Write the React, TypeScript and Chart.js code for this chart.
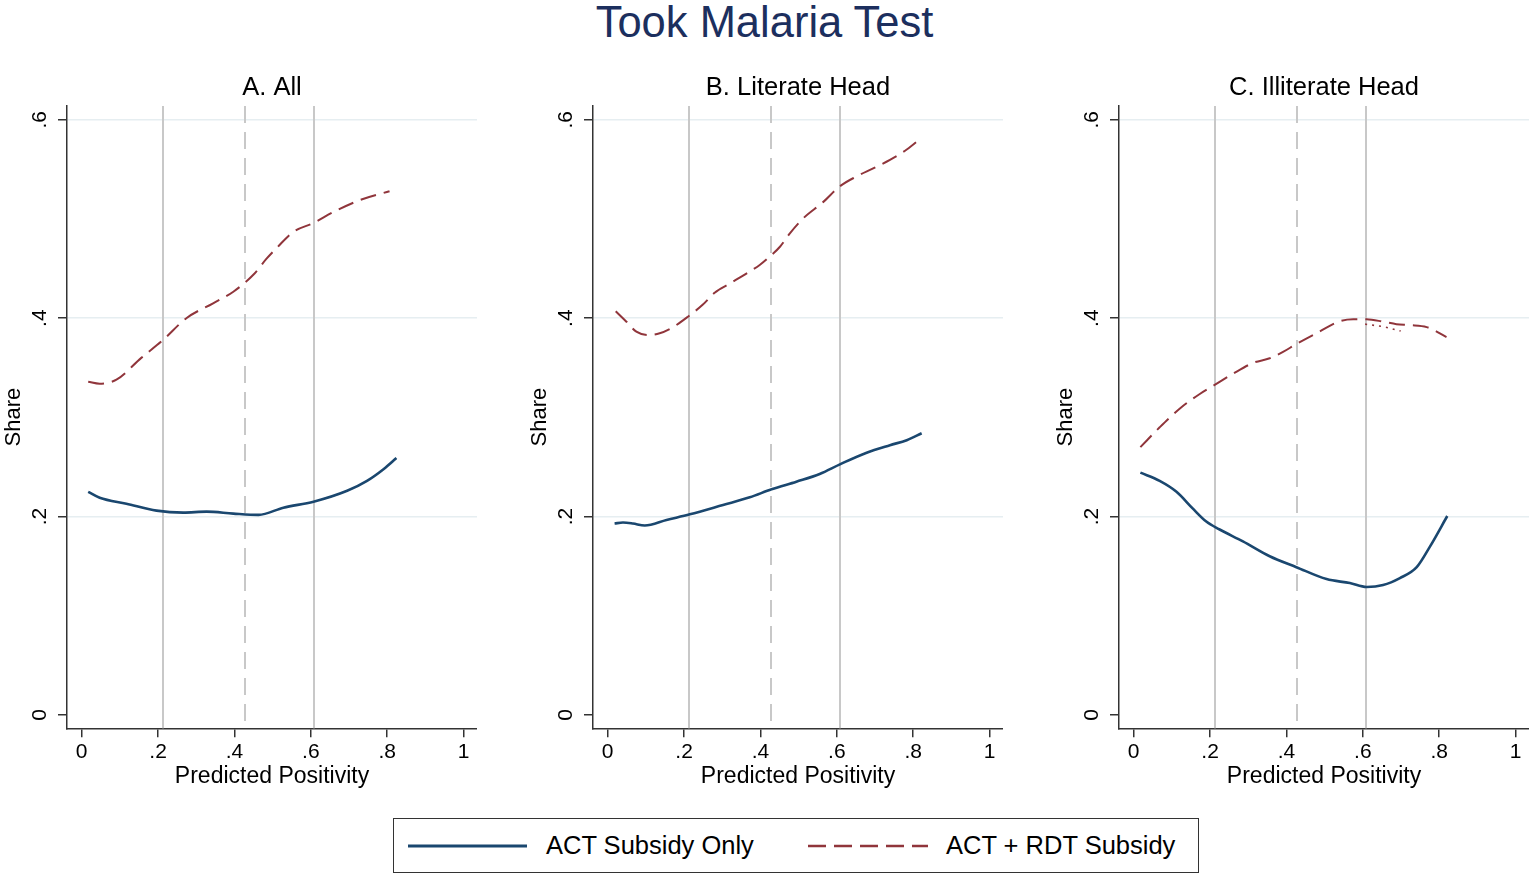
import React, { useEffect, useRef } from 'react';
import { Chart, registerables } from 'chart.js';

Chart.register(...registerables);

const FONT = '"Liberation Sans", Arial, Helvetica, sans-serif';

const mainTitle = 'Took Malaria Test';
const panelTitles = ['A. All', 'B. Literate Head', 'C. Illiterate Head'];
const xAxisTitle = 'Predicted Positivity';
const yAxisTitle = 'Share';
const seriesNames = ['ACT Subsidy Only', 'ACT + RDT Subsidy'];

const xTicks = [0, 0.2, 0.4, 0.6, 0.8, 1];
const xTickLabels = ['0', '.2', '.4', '.6', '.8', '1'];
const yTicks = [0, 0.2, 0.4, 0.6];
const yTickLabels = ['0', '.2', '.4', '.6'];

const refLines = [0.2126, 0.428, 0.609];
const refLineDashed = [false, true, false];

// Panel A: All
const actA_x = [0.017, 0.047, 0.117, 0.196, 0.266, 0.327, 0.397, 0.463, 0.528, 0.607, 0.695, 0.747, 0.791, 0.824];
const actA_y = [0.225, 0.219, 0.213, 0.206, 0.204, 0.205, 0.203, 0.2017, 0.209, 0.215, 0.226, 0.236, 0.248, 0.259];
const rdtA_x = [0.017, 0.047, 0.091, 0.156, 0.213, 0.274, 0.344, 0.397, 0.45, 0.484, 0.511, 0.554, 0.607, 0.659, 0.728, 0.806];
const rdtA_y = [0.336, 0.334, 0.338, 0.36, 0.378, 0.4, 0.415, 0.4267, 0.444, 0.46, 0.471, 0.487, 0.496, 0.507, 0.519, 0.528];

// Panel B: Literate Head
const actB_x = [0.018, 0.04, 0.066, 0.097, 0.154, 0.215, 0.302, 0.372, 0.429, 0.494, 0.555, 0.608, 0.678, 0.739, 0.783, 0.822];
const actB_y = [0.193, 0.194, 0.193, 0.191, 0.1966, 0.2023, 0.2117, 0.2194, 0.2275, 0.2352, 0.243, 0.2527, 0.2644, 0.272, 0.277, 0.284];
const rdtB_x = [0.021, 0.049, 0.075, 0.106, 0.136, 0.171, 0.21, 0.25, 0.28, 0.32, 0.363, 0.398, 0.424, 0.451, 0.477, 0.512, 0.564, 0.608, 0.652, 0.695, 0.739, 0.783, 0.822];
const rdtB_y = [0.407, 0.3965, 0.3864, 0.383, 0.3848, 0.391, 0.4015, 0.414, 0.4257, 0.435, 0.445, 0.4536, 0.462, 0.472, 0.4856, 0.5007, 0.517, 0.533, 0.543, 0.551, 0.5595, 0.57, 0.582];

// Panel C: Illiterate Head
const actC_x = [0.0175, 0.068, 0.112, 0.155, 0.19, 0.225, 0.286, 0.356, 0.426, 0.505, 0.566, 0.61, 0.653, 0.697, 0.741, 0.776, 0.821];
const actC_y = [0.2443, 0.236, 0.225, 0.208, 0.195, 0.187, 0.175, 0.16, 0.149, 0.137, 0.133, 0.129, 0.131, 0.138, 0.149, 0.17, 0.2006];
const rdtC_x = [0.0175, 0.068, 0.121, 0.173, 0.212, 0.26, 0.313, 0.356, 0.391, 0.426, 0.479, 0.54, 0.575, 0.61, 0.653, 0.688, 0.723, 0.767, 0.819];
const rdtC_y = [0.27, 0.29, 0.309, 0.3236, 0.3327, 0.344, 0.355, 0.3596, 0.366, 0.374, 0.385, 0.397, 0.399, 0.3989, 0.3965, 0.394, 0.393, 0.391, 0.381];
const rdtCFork_x = [0.606, 0.659, 0.699];
const rdtCFork_y = [0.394, 0.391, 0.387];

const BLUE = '#1a476f';
const RED = '#90353b';
const AXIS = '#333333';

const zip = (xs: number[], ys: number[]) => xs.map((x, i) => ({ x, y: ys[i] }));

const panels = [
  { title: panelTitles[0], act: zip(actA_x, actA_y), rdt: zip(rdtA_x, rdtA_y), fork: null as any },
  { title: panelTitles[1], act: zip(actB_x, actB_y), rdt: zip(rdtB_x, rdtB_y), fork: null as any },
  { title: panelTitles[2], act: zip(actC_x, actC_y), rdt: zip(rdtC_x, rdtC_y), fork: zip(rdtCFork_x, rdtCFork_y) },
];

const CANVAS_W = 477;
const CANVAS_H = 740;
const CANVAS_TOP = 60;
const PANEL_STEP = 526;

const refLinePlugin = {
  id: 'refLines',
  beforeDatasetsDraw(chart: any) {
    const { ctx, chartArea, scales } = chart;
    const xs = scales.x;
    ctx.save();
    ctx.strokeStyle = '#c8c8c8';
    ctx.lineWidth = 2;
    refLines.forEach((v, i) => {
      const px = Math.round(xs.getPixelForValue(v));
      ctx.setLineDash(refLineDashed[i] ? [17, 9] : []);
      ctx.beginPath();
      ctx.moveTo(px, chartArea.top);
      ctx.lineTo(px, chartArea.bottom);
      ctx.stroke();
    });
    ctx.restore();
  },
};

function Panel({ index }: { index: number }) {
  const ref = useRef<HTMLCanvasElement | null>(null);
  useEffect(() => {
    const p = panels[index];
    const datasets: any[] = [
      {
        label: seriesNames[0],
        data: p.act,
        borderColor: BLUE,
        borderWidth: 2.6,
        pointRadius: 0,
        fill: false,
        cubicInterpolationMode: 'monotone',
      },
      {
        label: seriesNames[1],
        data: p.rdt,
        borderColor: RED,
        borderWidth: 2,
        borderDash: [16, 8],
        pointRadius: 0,
        fill: false,
        cubicInterpolationMode: 'monotone',
      },
    ];
    if (p.fork) {
      datasets.push({
        label: 'fork',
        data: p.fork,
        borderColor: RED,
        borderWidth: 1.6,
        borderDash: [2, 5],
        pointRadius: 0,
        fill: false,
        cubicInterpolationMode: 'monotone',
      });
    }
    const chart = new Chart(ref.current as HTMLCanvasElement, {
      type: 'line',
      data: { datasets },
      plugins: [refLinePlugin],
      options: {
        responsive: false,
        animation: false,
        devicePixelRatio: 1,
        layout: { padding: { left: 0, right: 0, top: 0, bottom: 0 } },
        plugins: {
          legend: { display: false },
          tooltip: { enabled: false },
          title: {
            display: true,
            text: p.title,
            color: '#000',
            fullSize: false,
            font: { family: FONT, size: 25.5, weight: 'normal' },
            padding: { top: 12.7, bottom: 2.6 },
          },
        },
        scales: {
          x: {
            type: 'linear',
            min: -0.0385,
            max: 1.035,
            afterBuildTicks: (s: any) => {
              s.ticks = xTicks.map((v) => ({ value: v }));
            },
            afterFit: (s: any) => {
              s.height = CANVAS_H - (728.3 - CANVAS_TOP);
            },
            ticks: {
              autoSkip: false,
              maxRotation: 0,
              minRotation: 0,
              padding: 2,
              color: '#000',
              font: { family: FONT, size: 21 },
              callback: (_v: any, i: number) => xTickLabels[i],
            },
            grid: {
              drawOnChartArea: false,
              drawTicks: true,
              tickLength: 9,
              tickColor: AXIS,
              tickWidth: 1.5,
              lineWidth: 1.5,
            },
            border: { display: true, color: AXIS, width: 1.5 },
            title: {
              display: true,
              text: xAxisTitle,
              color: '#000',
              font: { family: FONT, size: 23 },
              padding: { top: 0, bottom: 9.2 },
            },
          },
          y: {
            type: 'linear',
            min: -0.0134,
            max: 0.614,
            afterBuildTicks: (s: any) => {
              s.ticks = yTicks.map((v) => ({ value: v }));
            },
            afterFit: (s: any) => {
              s.width = 67;
            },
            ticks: {
              autoSkip: false,
              minRotation: 90,
              maxRotation: 90,
              crossAlign: 'center',
              padding: 9.5,
              color: '#000',
              font: { family: FONT, size: 21 },
              callback: (_v: any, i: number) => yTickLabels[i],
            },
            grid: {
              drawOnChartArea: true,
              drawTicks: true,
              tickLength: 9,
              tickColor: AXIS,
              tickWidth: 1.5,
              lineWidth: 1.5,
              color: (ctx: any) => (ctx.tick && ctx.tick.value === 0 ? 'rgba(0,0,0,0)' : '#e6eef1'),
            },
            border: { display: true, color: AXIS, width: 1.5 },
            title: {
              display: true,
              text: yAxisTitle,
              color: '#000',
              font: { family: FONT, size: 22 },
              padding: { top: 0.8, bottom: 0 },
            },
          },
        },
      } as any,
    });
    return () => chart.destroy();
  }, [index]);
  return (
    <canvas
      ref={ref}
      width={CANVAS_W}
      height={CANVAS_H}
      style={{ position: 'absolute', left: PANEL_STEP * index, top: CANVAS_TOP, display: 'block' }}
    />
  );
}

export default function App() {
  return (
    <div
      style={{
        position: 'absolute',
        left: 0,
        top: 0,
        width: 1529,
        height: 875,
        background: '#ffffff',
        overflow: 'hidden',
        fontFamily: FONT,
      }}
    >
      <div
        style={{
          position: 'absolute',
          left: 0,
          width: 1529,
          top: 0,
          height: 44,
          lineHeight: '44px',
          textAlign: 'center',
          fontSize: 43.5,
          color: '#1c2f5e',
          whiteSpace: 'nowrap',
        }}
      >
        {mainTitle}
      </div>
      {panels.map((_, i) => (
        <Panel key={i} index={i} />
      ))}
      <div
        style={{
          position: 'absolute',
          left: 393,
          top: 818,
          width: 806,
          height: 55,
          boxSizing: 'border-box',
          border: `1.5px solid ${AXIS}`,
          background: '#fff',
        }}
      >
        <svg width={806} height={55} style={{ position: 'absolute', left: -1.5, top: -1.5 }}>
          <line x1={15} y1={28} x2={134} y2={28} stroke={BLUE} strokeWidth={3} />
          <line x1={415} y1={28} x2={535} y2={28} stroke={RED} strokeWidth={2.6} strokeDasharray="18 8" />
        </svg>
        <span
          style={{
            position: 'absolute',
            left: 152,
            top: 0,
            height: 52,
            lineHeight: '52px',
            fontSize: 25.5,
            color: '#000',
            whiteSpace: 'nowrap',
          }}
        >
          {seriesNames[0]}
        </span>
        <span
          style={{
            position: 'absolute',
            left: 552,
            top: 0,
            height: 52,
            lineHeight: '52px',
            fontSize: 25.5,
            color: '#000',
            whiteSpace: 'nowrap',
          }}
        >
          {seriesNames[1]}
        </span>
      </div>
    </div>
  );
}
